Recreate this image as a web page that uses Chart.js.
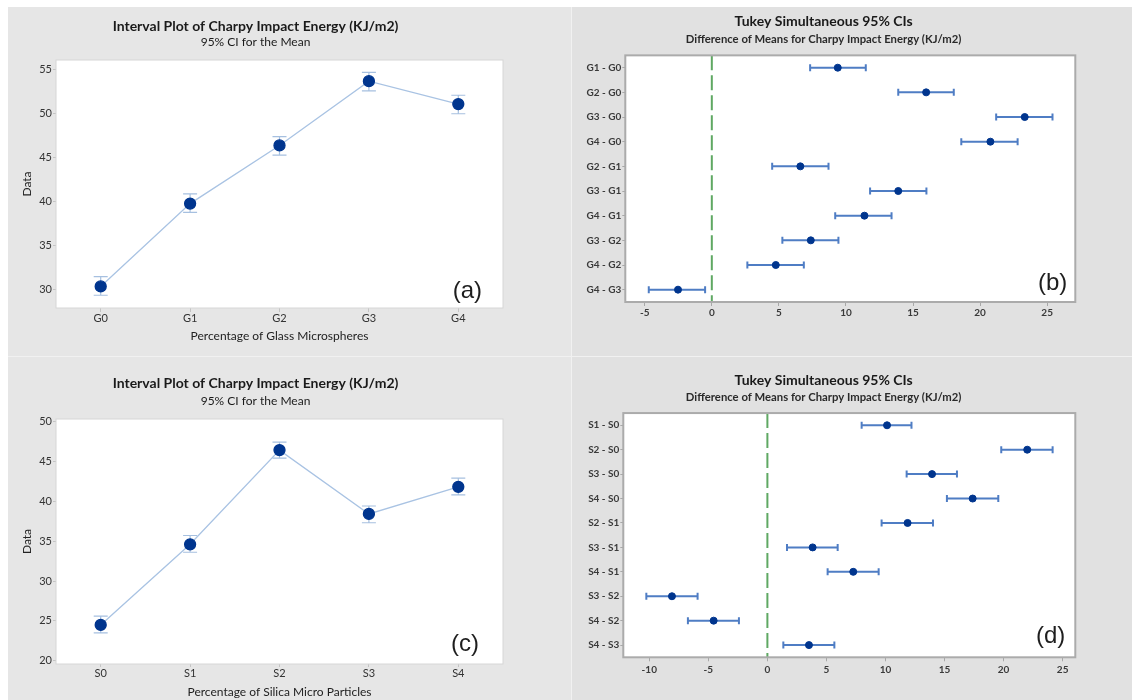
<!DOCTYPE html>
<html>
<head>
<meta charset="utf-8">
<script src="https://cdn.jsdelivr.net/npm/chart.js@4.4.1/dist/chart.umd.min.js"></script>
<style>
  body{margin:0;background:#fff;width:1132px;height:700px;overflow:hidden;position:relative}
  #back{position:absolute;left:8px;top:7px;width:1124px;height:693px;background:#f1f1f1}
  .panel{position:absolute}
  .panel canvas{display:block}
  #pa{left:8px;top:7px;background:#e6e6e6}
  #pc{left:8px;top:357px;background:#e6e6e6}
  #pb{left:572px;top:7px;background:#e1e1e1}
  #pd{left:572px;top:357px;background:#e1e1e1}
</style>
</head>
<body>
<div id="back"></div>
<div class="panel" id="pa"><canvas id="ca" width="563" height="349"></canvas></div>
<div class="panel" id="pb"><canvas id="cb" width="560" height="349"></canvas></div>
<div class="panel" id="pc"><canvas id="cc" width="563" height="343"></canvas></div>
<div class="panel" id="pd"><canvas id="cd" width="560" height="343"></canvas></div>
<script>
// interval plots (a) and (c): means with 95% CI
const glassLabels = ['G0', 'G1', 'G2', 'G3', 'G4'];
const glassMean = [30.4, 39.8, 46.4, 53.7, 51.1];
const glassLow = [29.4, 38.8, 45.3, 52.6, 50.0];
const glassHigh = [31.5, 40.9, 47.4, 54.7, 52.1];

const silicaLabels = ['S0', 'S1', 'S2', 'S3', 'S4'];
const silicaMean = [24.5, 34.6, 46.4, 38.4, 41.8];
const silicaLow = [23.5, 33.6, 45.4, 37.3, 40.8];
const silicaHigh = [25.6, 35.7, 47.4, 39.4, 42.9];

// Tukey simultaneous CIs (b) and (d)
const glassPairs = ['G1 - G0', 'G2 - G0', 'G3 - G0', 'G4 - G0', 'G2 - G1', 'G3 - G1', 'G4 - G1', 'G3 - G2', 'G4 - G2', 'G4 - G3'];
const glassDiff = [9.39, 15.98, 23.33, 20.77, 6.6, 13.9, 11.38, 7.38, 4.77, -2.52];
const glassDiffLow = [7.33, 13.9, 21.2, 18.6, 4.5, 11.8, 9.2, 5.26, 2.65, -4.7];
const glassDiffHigh = [11.48, 18.04, 25.4, 22.8, 8.7, 16.0, 13.4, 9.44, 6.86, -0.5];

const silicaPairs = ['S1 - S0', 'S2 - S0', 'S3 - S0', 'S4 - S0', 'S2 - S1', 'S3 - S1', 'S4 - S1', 'S3 - S2', 'S4 - S2', 'S4 - S3'];
const silicaDiff = [10.13, 22.0, 13.94, 17.38, 11.87, 3.83, 7.27, -8.08, -4.55, 3.52];
const silicaDiffLow = [7.98, 19.8, 11.79, 15.2, 9.67, 1.66, 5.1, -10.25, -6.73, 1.35];
const silicaDiffHigh = [12.2, 24.15, 16.05, 19.55, 14.02, 5.95, 9.42, -5.91, -2.41, 5.67];

const glassRange = [27.95, 56.1];
const silicaRange = [19.6, 50.3];
const glassDiffRange = [-6.45, 27.1];
const silicaDiffRange = [-12.2, 26.07];

Chart.defaults.font.family = 'Lato, sans-serif';
Chart.defaults.color = '#2b2b2b';
Chart.defaults.animation = false;

const NAVY = '#00358e';

// white plot area, frame, CI bars, zero line, panel letter
const decor = {
  id: 'decor',
  beforeDraw(chart, args, o) {
    const a = chart.chartArea, ctx = chart.ctx;
    ctx.save();
    ctx.fillStyle = '#fff';
    ctx.fillRect(a.left, a.top, a.right - a.left, a.bottom - a.top);
    ctx.restore();
  },
  beforeDatasetsDraw(chart, args, o) {
    const a = chart.chartArea, ctx = chart.ctx;
    const xs = chart.scales.x, ys = chart.scales.y;
    const pts = chart.getDatasetMeta(0).data;
    ctx.save();
    if (o.zero) {
      const zx = xs.getPixelForValue(0);
      ctx.strokeStyle = '#5fa863';
      ctx.lineWidth = 2;
      ctx.setLineDash([15, 5]);
      ctx.beginPath();
      ctx.moveTo(zx, a.top);
      ctx.lineTo(zx, a.bottom);
      ctx.stroke();
      ctx.setLineDash([]);
    }
    ctx.strokeStyle = o.ciColor;
    ctx.lineWidth = o.ciWidth;
    pts.forEach((p, i) => {
      ctx.beginPath();
      if (o.horizontal) {
        const x1 = xs.getPixelForValue(o.low[i]), x2 = xs.getPixelForValue(o.high[i]);
        ctx.moveTo(x1, p.y); ctx.lineTo(x2, p.y);
        ctx.moveTo(x1, p.y - o.cap); ctx.lineTo(x1, p.y + o.cap);
        ctx.moveTo(x2, p.y - o.cap); ctx.lineTo(x2, p.y + o.cap);
      } else {
        const y1 = ys.getPixelForValue(o.low[i]), y2 = ys.getPixelForValue(o.high[i]);
        ctx.moveTo(p.x, y1); ctx.lineTo(p.x, y2);
        ctx.moveTo(p.x - o.cap, y1); ctx.lineTo(p.x + o.cap, y1);
        ctx.moveTo(p.x - o.cap, y2); ctx.lineTo(p.x + o.cap, y2);
      }
      ctx.stroke();
    });
    ctx.restore();
  },
  afterDraw(chart, args, o) {
    const a = chart.chartArea, ctx = chart.ctx;
    ctx.save();
    ctx.strokeStyle = o.frameColor;
    ctx.lineWidth = o.frameWidth;
    ctx.strokeRect(a.left, a.top, a.right - a.left, a.bottom - a.top);
    ctx.fillStyle = '#1e1e1e';
    ctx.font = '24px "Liberation Sans", Arial, sans-serif';
    ctx.textAlign = 'right';
    ctx.textBaseline = 'middle';
    ctx.fillText(o.letter, a.right - o.letterDx, a.bottom - o.letterDy);
    ctx.restore();
  }
};

function intervalChart(id, labels, means, low, high, range, xTitle, letter, lay) {
  return new Chart(document.getElementById(id), {
    type: 'line',
    data: {
      labels: labels,
      datasets: [{
        data: means,
        borderColor: '#a9c3e3',
        borderWidth: 1.3,
        pointRadius: 5.5,
        pointBackgroundColor: NAVY,
        pointBorderColor: NAVY,
        tension: 0
      }]
    },
    options: {
      responsive: false,
      layout: { padding: { top: 0, right: 68, bottom: 0, left: 0 } },
      plugins: {
        legend: { display: false },
        tooltip: { enabled: false },
        title: {
          display: true,
          text: 'Interval Plot of Charpy Impact Energy (KJ/m2)',
          color: '#1a1a1a',
          font: { size: 14, weight: 'bold' },
          padding: { top: lay.tTop, bottom: 0 }
        },
        subtitle: {
          display: true,
          text: '95% CI for the Mean',
          color: '#1a1a1a',
          font: { size: 12 },
          padding: { top: lay.sTop, bottom: lay.sBot }
        },
        decor: {
          low: low, high: high, horizontal: false,
          ciColor: '#a6c0e0', ciWidth: 1.2, cap: 7,
          frameColor: '#d6d6d6', frameWidth: 1,
          letter: letter, letterDx: lay.lDx, letterDy: lay.lDy
        }
      },
      scales: {
        x: {
          type: 'category',
          offset: true,
          grid: { drawOnChartArea: false, drawTicks: true, tickLength: lay.xTl, color: '#c4c4c4' },
          border: { display: false },
          ticks: { padding: 0, font: { size: 11 }, color: '#333' },
          title: { display: true, text: xTitle, color: '#222', font: { size: 12 }, padding: { top: 0, bottom: lay.xtPad } },
          afterFit: s => { s.height = lay.xH; }
        },
        y: {
          min: range[0],
          max: range[1],
          ticks: { stepSize: 5, includeBounds: false, padding: 1, font: { size: 11 }, color: '#333' },
          grid: { drawOnChartArea: false, drawTicks: true, tickLength: 3, color: '#c4c4c4' },
          border: { display: false },
          title: { display: true, text: 'Data', color: '#222', font: { size: 12 }, padding: { top: 11.8, bottom: 0 } },
          afterFit: s => { s.width = 48; }
        }
      }
    },
    plugins: [decor]
  });
}

function tukeyChart(id, pairs, diff, low, high, range, letter, lay) {
  return new Chart(document.getElementById(id), {
    type: 'scatter',
    data: {
      datasets: [{
        data: pairs.map((p, i) => ({ x: diff[i], y: p })),
        pointRadius: 3.5,
        pointBackgroundColor: NAVY,
        pointBorderColor: NAVY
      }]
    },
    options: {
      responsive: false,
      layout: { padding: { top: 0, right: 56.7, bottom: 0, left: 0 } },
      plugins: {
        legend: { display: false },
        tooltip: { enabled: false },
        title: {
          display: true,
          text: 'Tukey Simultaneous 95% CIs',
          color: '#1a1a1a',
          font: { size: 14, weight: 'bold' },
          padding: { top: lay.tTop, bottom: 0 }
        },
        subtitle: {
          display: true,
          text: 'Difference of Means for Charpy Impact Energy (KJ/m2)',
          color: '#2a2a2a',
          font: { size: 11.3, weight: 'bold' },
          padding: { top: lay.sTop, bottom: lay.sBot }
        },
        decor: {
          low: low, high: high, horizontal: true, zero: true,
          ciColor: '#4f7dc4', ciWidth: 2, cap: 3.5,
          frameColor: '#ababab', frameWidth: 2,
          letter: letter, letterDx: lay.lDx, letterDy: lay.lDy
        }
      },
      scales: {
        x: {
          type: 'linear',
          min: range[0],
          max: range[1],
          ticks: { stepSize: 5, includeBounds: false, padding: lay.xPad, font: { size: 10, weight: 'bold' }, color: '#3a3a3a' },
          grid: { drawOnChartArea: false, drawTicks: true, tickLength: 4, color: '#a8a8a8' },
          border: { display: false },
          afterFit: s => { s.height = lay.xH; }
        },
        y: {
          type: 'category',
          labels: pairs,
          offset: true,
          ticks: { padding: 1, font: { size: 10, weight: 'bold' }, color: '#3a3a3a' },
          grid: { drawOnChartArea: false, drawTicks: true, tickLength: 3, color: '#a8a8a8' },
          border: { display: false },
          afterFit: s => { s.width = lay.yW; }
        }
      }
    },
    plugins: [decor]
  });
}

intervalChart('ca', glassLabels, glassMean, glassLow, glassHigh, glassRange,
  'Percentage of Glass Microspheres', '(a)',
  { tTop: 10.6, sTop: 0.4, sBot: 10.8, xH: 48, xTl: 4, xtPad: 13.1, lDx: 21, lDy: 17 });

intervalChart('cc', silicaLabels, silicaMean, silicaLow, silicaHigh, silicaRange,
  'Percentage of Silica Micro Particles', '(c)',
  { tTop: 17.6, sTop: 2.1, sBot: 11.1, xH: 36, xTl: 3, xtPad: 1.1, lDx: 24, lDy: 20 });

tukeyChart('cb', glassPairs, glassDiff, glassDiffLow, glassDiffHigh, glassDiffRange, '(b)',
  { tTop: 6.3, sTop: 2.3, sBot: 9.4, xH: 54, xPad: 1, yW: 53.3, lDx: 8, lDy: 19 });

tukeyChart('cd', silicaPairs, silicaDiff, silicaDiffLow, silicaDiffHigh, silicaDiffRange, '(d)',
  { tTop: 14.6, sTop: 1.7, sBot: 9.4, xH: 42.7, xPad: 2, yW: 51.3, lDx: 10, lDy: 20.5 });
</script>
</body>
</html>
